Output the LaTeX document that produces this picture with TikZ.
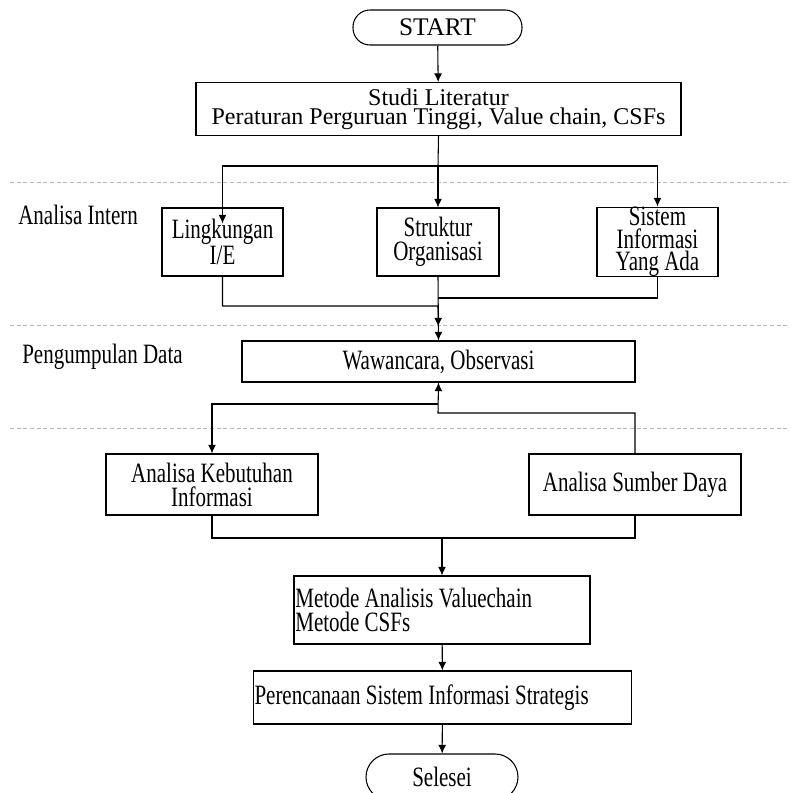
\documentclass[tikz,border=0pt]{standalone}
\usepackage{fontspec}
\setmainfont{Liberation Serif}[FakeStretch=0.75]
\newfontfamily\wideserif{Liberation Serif}
\usetikzlibrary{arrows.meta, positioning}

\newlength{\pixel}
\setlength{\pixel}{0.75pt}

\tikzset{
    boks/.style={draw, line width=0.8pt, inner sep=1pt, align=center, font=\fontsize{21}{18}\selectfont},
    terminal/.style={draw, line width=0.8pt, inner sep=1pt, font=\wideserif\fontsize{19}{20}\selectfont},
    garis/.style={line width=0.8pt},
    pemisah/.style={gray!55, line width=0.5pt, dash pattern=on 3pt off 2pt},
    lajur/.style={anchor=base west, inner sep=0pt, font=\fontsize{21}{18}\selectfont}
}

\begin{document}
\begin{tikzpicture}[x=0.75pt, y=-0.75pt, >={Latex[length=6.5pt, width=6pt]}]
    \useasboundingbox (0,0) rectangle (790,793);

    % --- pemisah tahap ---
    \foreach \y in {182, 325, 428} {
        \draw[pemisah] (10,\y) -- (790,\y);
    }

    % --- label tahap ---
    \node[lajur] (intern) at (18,224) {Analisa Intern};
    \node[lajur] (kumpul) at (22,363) {Pengumpulan Data};

    % --- awal ---
    \node[terminal, rounded corners=17\pixel, minimum width=169\pixel, minimum height=35\pixel] (start) at (437.5,27.5) {START};
    \node[boks, font=\wideserif\fontsize{18}{14}\selectfont, minimum width=485\pixel, minimum height=53\pixel] (studi) at (438.5,109) {Studi Literatur\\Peraturan Perguruan Tinggi, Value chain, CSFs};

    % --- analisa intern ---
    \node[boks, minimum width=121\pixel, minimum height=68\pixel] (lingk) at (222.5,242) {Lingkungan\\I/E};
    \node[boks, minimum width=122\pixel, minimum height=68\pixel] (struk) at (438,242) {Struktur\\Organisasi};
    \node[boks, inner ysep=0pt, font=\fontsize{21}{17}\selectfont, minimum width=121\pixel, minimum height=68\pixel] (sistem) at (657.5,242) {Sistem\\Informasi\\Yang Ada};

    % --- pengumpulan data ---
    \node[boks, minimum width=393\pixel, minimum height=41\pixel] (waw) at (438.5,361.5) {Wawancara, Observasi};
    \node[boks, minimum width=212\pixel, minimum height=61\pixel] (kebut) at (212,484.5) {Analisa Kebutuhan\\Informasi};
    \node[boks, minimum width=212\pixel, minimum height=61\pixel] (sumber) at (635,484.5) {Analisa Sumber Daya};

    % --- metode dan hasil ---
    \node[boks, align=flush left, text width=220pt, minimum height=68\pixel] (metode) at (442,610) {Metode Analisis Valuechain\\Metode CSFs};
    \node[boks, align=flush left, text width=282pt, minimum height=53\pixel] (rencana) at (442.5,697.5) {Perencanaan Sistem Informasi Strategis};
    \node[terminal, font=\fontsize{21}{20}\selectfont, rounded corners=23\pixel, minimum width=152\pixel, minimum height=46\pixel] (selesai) at (442,777) {Selesei};

    % --- titik cabang ---
    \coordinate (cabang) at (438,166);
    \coordinate (gabung) at (438,306);
    \coordinate (gabung2) at (438,298);
    \coordinate (pisah) at (438,404);
    \coordinate (balik) at (438,413);
    \coordinate (temu) at (442,538);

    % --- panah ---
    \draw[garis, ->] (start) -- (studi);
    \draw[garis] (studi.south) -- (cabang);
    \draw[garis, ->, shorten >=-16\pixel] (cabang) -| (lingk.north);
    \draw[garis, ->] (cabang) -- (struk.north);
    \draw[garis, ->] (cabang) -| (sistem.north);

    \draw[garis, ->, shorten >=14\pixel] (lingk.south) |- (gabung) -- (waw.north);
    \draw[garis, ->] (struk.south) -- (waw.north);
    \draw[garis] (sistem.south) |- (gabung2);

    \draw[garis, ->] (sumber.north) |- (balik) -- (waw.south);
    \draw[garis, ->] (pisah) -| (kebut.north);

    \draw[garis] (kebut.south) |- (sumber.south |- temu) -- (sumber.south);
    \draw[garis, ->] (temu) -- (metode.north);
    \draw[garis, ->] (metode) -- (rencana);
    \draw[garis, ->] (rencana) -- (selesai);
\end{tikzpicture}
\end{document}
